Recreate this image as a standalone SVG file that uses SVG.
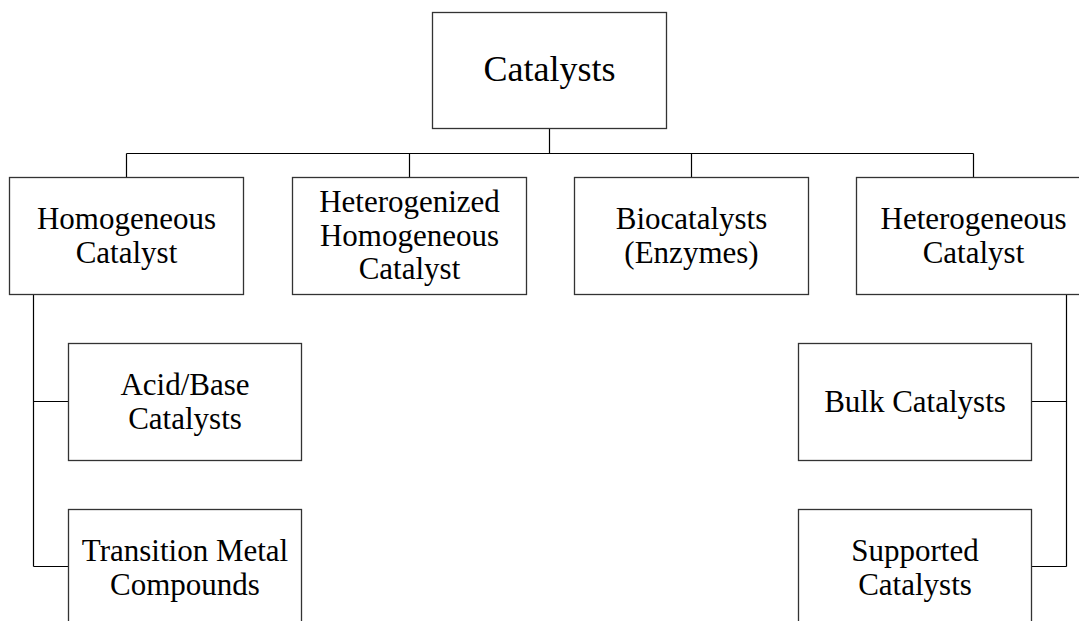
<svg xmlns="http://www.w3.org/2000/svg" width="1079" height="621" viewBox="0 0 1079 621">
<style>
.box{fill:#fff;stroke:#333;stroke-width:1.3}
.ln{fill:none;stroke:#000;stroke-width:1.2}
.t{font-size:31px;fill:#000;text-anchor:middle}
.big{font-size:36px}
</style>
<rect width="1079" height="621" fill="#fff"/>
<g id="connectors">
<path class="ln" d="M549.5,128.5V153.5M126.5,153.5H973.5M126.5,153.5V177.5M409.5,153.5V177.5M691.5,153.5V177.5M973.5,153.5V177.5"/>
<path class="ln" d="M33.5,294.5V566.5M33.5,401.5H68.5M33.5,566.5H68.5"/>
<path class="ln" d="M1066.5,294.5V566.5M1031.5,401.5H1066.5M1031.5,566.5H1066.5"/>
</g>
<g font-family="Liberation Serif, Times New Roman, serif">
<g id="catalysts">
<rect class="box" x="432.5" y="12.5" width="234" height="116"/>
<text class="t big" x="549.5" y="81">Catalysts</text>
</g>
<g id="homogeneous">
<rect class="box" x="9.5" y="177.5" width="234" height="117"/>
<text class="t" x="126.5" y="229">Homogeneous</text>
<text class="t" x="126.5" y="263">Catalyst</text>
</g>
<g id="heterogenized">
<rect class="box" x="292.5" y="177.5" width="234" height="117"/>
<text class="t" x="409.5" y="212">Heterogenized</text>
<text class="t" x="409.5" y="245.5">Homogeneous</text>
<text class="t" x="409.5" y="279">Catalyst</text>
</g>
<g id="biocatalysts">
<rect class="box" x="574.5" y="177.5" width="234" height="117"/>
<text class="t" x="691.5" y="229">Biocatalysts</text>
<text class="t" x="691.5" y="263">(Enzymes)</text>
</g>
<g id="heterogeneous">
<rect class="box" x="856.5" y="177.5" width="234" height="117"/>
<text class="t" x="973.5" y="229">Heterogeneous</text>
<text class="t" x="973.5" y="263">Catalyst</text>
</g>
<g id="acidbase">
<rect class="box" x="68.5" y="343.5" width="233" height="117"/>
<text class="t" x="185" y="395">Acid/Base</text>
<text class="t" x="185" y="429">Catalysts</text>
</g>
<g id="transition">
<rect class="box" x="68.5" y="509.5" width="233" height="117"/>
<text class="t" x="185" y="561">Transition Metal</text>
<text class="t" x="185" y="595">Compounds</text>
</g>
<g id="bulk">
<rect class="box" x="798.5" y="343.5" width="233" height="117"/>
<text class="t" x="915" y="412">Bulk Catalysts</text>
</g>
<g id="supported">
<rect class="box" x="798.5" y="509.5" width="233" height="117"/>
<text class="t" x="915" y="561">Supported</text>
<text class="t" x="915" y="595">Catalysts</text>
</g>
</g>
</svg>
